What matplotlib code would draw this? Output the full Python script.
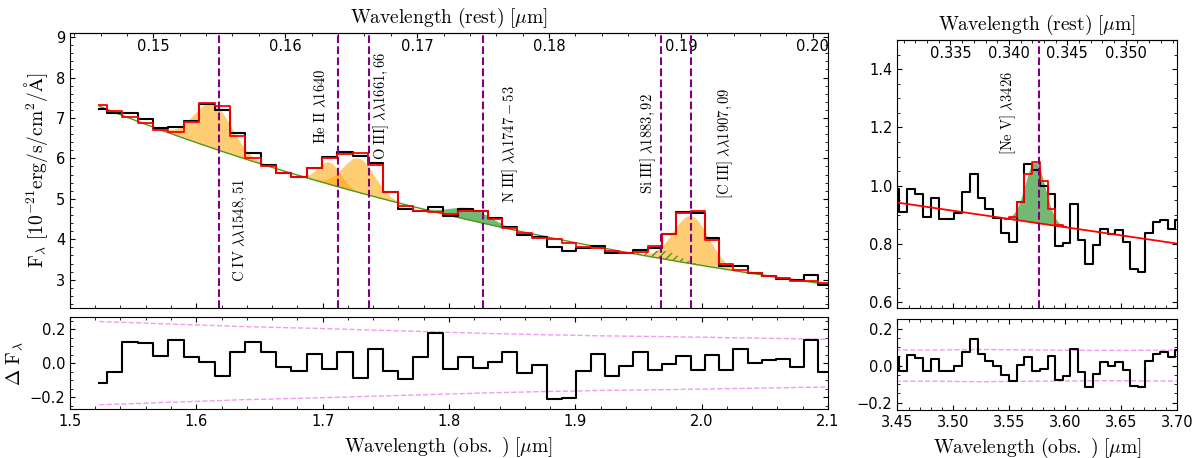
"""NIRSpec prism spectrum with UV line fits (left) and the [Ne V] region (right)."""

import matplotlib
matplotlib.use("Agg")
import matplotlib.pyplot as plt
import numpy as np
from matplotlib.ticker import FixedLocator, FormatStrFormatter, MultipleLocator

plt.rcParams["mathtext.fontset"] = "cm"

# Section: redshift used for the rest-frame axes (1 + z).
ONE_PLUS_Z = 10.44

# Section: UV part of the spectrum, binned (obs. wavelength in um, flux in 1e-21 cgs).
uv_wave = [
    1.5232, 1.5352, 1.5475, 1.5596, 1.5718, 1.5841, 1.5963, 1.6084, 1.6206, 1.6327,
    1.6449, 1.6570, 1.6692, 1.6813, 1.6934, 1.7056, 1.7177, 1.7297, 1.7417, 1.7539,
    1.7658, 1.7777, 1.7896, 1.8014, 1.8133, 1.8249, 1.8365, 1.8482, 1.8599, 1.8715,
    1.8833, 1.8951, 1.9066, 1.9178, 1.9292, 1.9404, 1.9516, 1.9628, 1.9740, 1.9855,
    1.9969, 2.0083, 2.0195, 2.0307, 2.0420, 2.0531, 2.0644, 2.0756, 2.0868, 2.0979,
    2.1087,
]
uv_flux = [
    7.22, 7.11, 7.13, 6.97, 6.76, 6.78, 6.92, 7.34, 7.19, 6.62,
    6.13, 5.84, 5.64, 5.53, 5.77, 6.03, 6.15, 6.06, 5.88, 5.18,
    4.76, 4.71, 4.80, 4.58, 4.75, 4.71, 4.53, 4.31, 4.11, 4.05,
    3.80, 3.72, 3.78, 3.84, 3.66, 3.65, 3.73, 3.79, 4.13, 4.68,
    4.65, 4.03, 3.34, 3.33, 3.17, 3.08, 3.02, 2.99, 3.11, 2.88,
    2.88,
]
uv_model = [
    7.33, 7.18, 7.03, 6.87, 6.70, 6.66, 6.91, 7.36, 7.29, 6.55,
    6.00, 5.80, 5.64, 5.54, 5.77, 6.00, 6.11, 6.14, 5.84, 5.18,
    4.83, 4.71, 4.67, 4.63, 4.71, 4.71, 4.49, 4.29, 4.15, 4.02,
    4.00, 3.91, 3.82, 3.79, 3.72, 3.67, 3.69, 3.83, 4.13, 4.66,
    4.69, 3.99, 3.38, 3.25, 3.16, 3.09, 3.03, 2.98, 2.97, 2.91,
    2.88,
]
uv_resid = [
    -0.116, -0.051, 0.127, 0.118, 0.045, 0.137, 0.035, 0.008, -0.078, 0.063,
    0.124, 0.067, -0.025, -0.045, 0.053, -0.037, 0.065, -0.090, 0.084, -0.045,
    -0.092, 0.037, 0.176, -0.037, 0.035, -0.029, 0.004, 0.063, -0.059, -0.010,
    -0.212, -0.208, -0.049, 0.053, -0.073, -0.016, 0.065, -0.039, -0.006, 0.043,
    -0.043, 0.049, -0.043, 0.086, 0.000, 0.016, 0.027, -0.025, 0.137, -0.051,
    -0.051,
]
uv_err = [
    0.245, 0.242, 0.239, 0.236, 0.232, 0.229, 0.226, 0.223, 0.220, 0.216,
    0.214, 0.212, 0.209, 0.207, 0.205, 0.202, 0.200, 0.197, 0.194, 0.192,
    0.189, 0.187, 0.184, 0.181, 0.179, 0.176, 0.174, 0.172, 0.170, 0.168,
    0.166, 0.165, 0.163, 0.161, 0.160, 0.159, 0.158, 0.157, 0.156, 0.154,
    0.153, 0.152, 0.150, 0.149, 0.148, 0.146, 0.145, 0.143, 0.142, 0.141,
    0.140,
]

# Section: UV continuum model, ln F = a + b*x + c*x^2 with x = ln(lambda / 1.8 um).
uv_cont_pars = [1.5243, -2.9008, -0.806]

# Section: fitted UV line components (obs. centre in um, amplitude, sigma in um).
orange_names = ["C IV", "He II", "O III]", "[C III]"]
orange_centre = [1.6128, 1.7053, 1.7285, 1.9914]
orange_amp = [1.10, 0.55, 0.85, 1.18]
orange_sigma = [0.0150, 0.0088, 0.0125, 0.0140]
niii_gauss = [1.8170, 0.30, 0.0160]
siiii_gauss = [1.9710, 0.20, 0.0120]

# Section: line markers (rest wavelength in um) and their labels.
uv_line_rest = [0.15495, 0.1640, 0.16635, 0.1750, 0.1885, 0.1908]
uv_line_labels = [
    r"$\mathrm{C\ IV}\ \lambda\lambda1548,51$",
    r"$\mathrm{He\ II}\ \lambda1640$",
    r"$\mathrm{O\ III]}\ \lambda\lambda1661,66$",
    r"$\mathrm{N\ III]}\ \lambda\lambda1747-53$",
    r"$\mathrm{Si\ III]}\ \lambda1883,92$",
    r"$\mathrm{[C\ III]}\ \lambda\lambda1907,09$",
]

# Section: rest-frame tick values for the top axes.
uv_rest_ticks = [0.15, 0.16, 0.17, 0.18, 0.19, 0.20]
ne_rest_ticks = [0.335, 0.340, 0.345, 0.350]

# Section: [Ne V] region of the spectrum.
ne_wave = [
    3.4484, 3.4551, 3.4618, 3.4692, 3.4767, 3.4837, 3.4907, 3.4973, 3.5045, 3.5116,
    3.5183, 3.5250, 3.5320, 3.5392, 3.5459, 3.5529, 3.5600, 3.5670, 3.5740, 3.5808,
    3.5875, 3.5942, 3.6009, 3.6076, 3.6146, 3.6213, 3.6280, 3.6347, 3.6413, 3.6482,
    3.6548, 3.6612, 3.6680, 3.6747, 3.6813, 3.6883, 3.6950, 3.7014,
]
ne_flux = [
    0.988, 0.910, 0.987, 0.970, 0.894, 0.956, 0.885, 0.886, 0.905, 0.978,
    1.040, 0.956, 0.921, 0.888, 0.838, 0.808, 0.943, 1.074, 1.055, 1.000,
    0.971, 0.792, 0.802, 0.937, 0.813, 0.730, 0.796, 0.852, 0.835, 0.848,
    0.808, 0.714, 0.704, 0.838, 0.875, 0.881, 0.850, 0.883,
]
ne_resid = [
    0.047, -0.027, 0.056, 0.042, -0.031, 0.036, -0.031, -0.027, -0.004, 0.075,
    0.142, 0.060, 0.027, -0.004, -0.049, -0.082, 0.005, 0.045, -0.027, -0.018,
    0.051, -0.076, -0.055, 0.087, -0.035, -0.116, -0.045, 0.018, 0.000, 0.018,
    -0.022, -0.109, -0.116, 0.024, 0.064, 0.073, 0.047, 0.082,
]
ne_err = [
    0.084, 0.084, 0.084, 0.084, 0.084, 0.084, 0.085, 0.085, 0.086, 0.086,
    0.087, 0.087, 0.087, 0.086, 0.086, 0.085, 0.085, 0.085, 0.084, 0.084,
    0.084, 0.083, 0.083, 0.083, 0.083, 0.082, 0.082, 0.082, 0.082, 0.082,
    0.082, 0.082, 0.083, 0.083, 0.083, 0.083, 0.083, 0.083,
]
# binned model over the line (bins 14..22), continuum end points, Gaussian
ne_model_first_bin = 14
ne_model = [0.887, 0.892, 0.945, 1.040, 1.082, 1.017, 0.920, 0.866, 0.857]
ne_cont_wave = [3.45, 3.70]
ne_cont_flux = [0.942, 0.801]
nev_gauss = [3.5730, 0.21, 0.0089]
nev_rest = 0.3426


def uv_continuum(wave):
    a, b, c = uv_cont_pars
    x = np.log(wave / 1.8)
    return np.exp(a + b * x + c * x**2)


def gauss(wave, centre, amp, sigma):
    return amp * np.exp(-0.5 * ((wave - centre) / sigma) ** 2)


def style_axes(ax, top_ticks):
    ax.tick_params(axis="both", which="both", direction="in", right=True,
                   top=top_ticks, labelsize=10.5)


def add_rest_axis(ax, ticks, minor, fmt):
    sec = ax.secondary_xaxis("top", functions=(lambda x: x / ONE_PLUS_Z,
                                                lambda x: x * ONE_PLUS_Z))
    sec.xaxis.set_major_locator(FixedLocator(ticks))
    sec.xaxis.set_minor_locator(MultipleLocator(minor))
    sec.xaxis.set_major_formatter(FormatStrFormatter(fmt))
    sec.tick_params(axis="x", which="both", direction="in", pad=-15, labelsize=10.5)
    sec.set_xlabel(r"$\mathrm{Wavelength\ (rest)\ [\mu m]}$", fontsize=14, labelpad=7.5)
    return sec


LINE_COLOR = "#800080"
CONT_COLOR = "#4c9a1c"

fig = plt.figure(figsize=(12, 4.58), dpi=100)
ax_uv = fig.add_axes([0.0583, 0.3275, 0.6317, 0.6004])
ax_uv_res = fig.add_axes([0.0583, 0.107, 0.6317, 0.2002])
ax_ne = fig.add_axes([0.7478, 0.3275, 0.2333, 0.5852])
ax_ne_res = fig.add_axes([0.7478, 0.1048, 0.2333, 0.198])

# Section: UV spectrum panel.
grid = np.linspace(uv_wave[0], 2.1, 1500)
cont = uv_continuum(grid)
for centre, amp, sigma in zip(orange_centre, orange_amp, orange_sigma):
    ax_uv.fill_between(grid, cont, cont + gauss(grid, centre, amp, sigma),
                       color="orange", alpha=0.55, linewidth=0)
ax_uv.fill_between(grid, cont, cont + gauss(grid, *niii_gauss),
                   color="green", alpha=0.55, linewidth=0)
ax_uv.fill_between(grid, cont, cont + gauss(grid, *siiii_gauss),
                   facecolor="none", edgecolor=CONT_COLOR, hatch="////", linewidth=0)
ax_uv.plot(grid, cont, color=CONT_COLOR, lw=1.0)
ax_uv.step(uv_wave, uv_flux, where="mid", color="black", lw=1.5)
ax_uv.step(uv_wave, uv_model, where="mid", color="red", lw=1.3)
for rest in uv_line_rest:
    ax_uv.axvline(rest * ONE_PLUS_Z, color=LINE_COLOR, ls="--", lw=1.5, zorder=5)

label_x = [1.6346, 1.6987, 1.7467, 1.8483, 1.9575, 2.0185]
label_y = [4.21, 7.28, 7.29, 6.36, 6.36, 6.37]
for text, x, y in zip(uv_line_labels, label_x, label_y):
    ax_uv.text(x, y, text, rotation=90, ha="center", va="center", fontsize=10.5)

ax_uv.set_xlim(1.5, 2.1)
ax_uv.set_ylim(2.3, 9.1)
ax_uv.xaxis.set_major_locator(MultipleLocator(0.1))
ax_uv.xaxis.set_minor_locator(MultipleLocator(0.02))
ax_uv.yaxis.set_major_locator(MultipleLocator(1))
ax_uv.yaxis.set_minor_locator(MultipleLocator(0.2))
style_axes(ax_uv, top_ticks=False)
ax_uv.tick_params(labelbottom=False)
ax_uv.set_ylabel(r"$\mathrm{F_\lambda\ [10^{-21}erg/s/cm^2/\AA]}$", fontsize=14)
add_rest_axis(ax_uv, uv_rest_ticks, 0.002, "%.2f")

# Section: UV residual panel.
uv_err_arr = np.array(uv_err)
ax_uv_res.plot(uv_wave, uv_err_arr, color="violet", ls="--", lw=1.0, alpha=0.8)
ax_uv_res.plot(uv_wave, -uv_err_arr, color="violet", ls="--", lw=1.0, alpha=0.8)
ax_uv_res.step(uv_wave, uv_resid, where="mid", color="black", lw=1.5)
ax_uv_res.set_xlim(1.5, 2.1)
ax_uv_res.set_ylim(-0.27, 0.27)
ax_uv_res.xaxis.set_major_locator(MultipleLocator(0.1))
ax_uv_res.xaxis.set_minor_locator(MultipleLocator(0.02))
ax_uv_res.yaxis.set_major_locator(MultipleLocator(0.2))
ax_uv_res.yaxis.set_minor_locator(MultipleLocator(0.05))
style_axes(ax_uv_res, top_ticks=True)
ax_uv_res.set_xlabel(r"$\mathrm{Wavelength\ (obs.\ )\ [\mu m]}$", fontsize=14)
ax_uv_res.set_ylabel(r"$\Delta\ \mathrm{F}_\lambda$", fontsize=14)

# Section: [Ne V] spectrum panel.
ne_grid = np.linspace(3.45, 3.70, 800)
ne_cont = np.interp(ne_grid, ne_cont_wave, ne_cont_flux)
ax_ne.fill_between(ne_grid, ne_cont, ne_cont + gauss(ne_grid, *nev_gauss),
                   color="green", alpha=0.55, linewidth=0)
ax_ne.step(ne_wave, ne_flux, where="mid", color="black", lw=1.5)
ax_ne.plot(ne_cont_wave, ne_cont_flux, color="red", lw=1.3)
model_wave = ne_wave[ne_model_first_bin:ne_model_first_bin + len(ne_model)]
ax_ne.step(model_wave, ne_model, where="mid", color="red", lw=1.3)
ax_ne.axvline(nev_rest * ONE_PLUS_Z, color=LINE_COLOR, ls="--", lw=1.5, zorder=5)
ax_ne.text(3.5491, 1.248, r"$\mathrm{[Ne\ V]}\ \lambda3426$", rotation=90,
           ha="center", va="center", fontsize=10.5)
ax_ne.set_xlim(3.45, 3.70)
ax_ne.set_ylim(0.58, 1.5)
ax_ne.xaxis.set_major_locator(MultipleLocator(0.05))
ax_ne.xaxis.set_minor_locator(MultipleLocator(0.01))
ax_ne.yaxis.set_major_locator(MultipleLocator(0.2))
ax_ne.yaxis.set_minor_locator(MultipleLocator(0.05))
style_axes(ax_ne, top_ticks=False)
ax_ne.tick_params(labelbottom=False)
add_rest_axis(ax_ne, ne_rest_ticks, 0.001, "%.3f")

# Section: [Ne V] residual panel.
ne_err_arr = np.array(ne_err)
ax_ne_res.plot(ne_wave, ne_err_arr, color="violet", ls="--", lw=1.0, alpha=0.8)
ax_ne_res.plot(ne_wave, -ne_err_arr, color="violet", ls="--", lw=1.0, alpha=0.8)
ax_ne_res.step(ne_wave, ne_resid, where="mid", color="black", lw=1.5)
ax_ne_res.set_xlim(3.45, 3.70)
ax_ne_res.set_ylim(-0.24, 0.25)
ax_ne_res.xaxis.set_major_locator(MultipleLocator(0.05))
ax_ne_res.xaxis.set_minor_locator(MultipleLocator(0.01))
ax_ne_res.yaxis.set_major_locator(MultipleLocator(0.2))
ax_ne_res.yaxis.set_minor_locator(MultipleLocator(0.05))
ax_ne_res.xaxis.set_major_formatter(FormatStrFormatter("%.2f"))
style_axes(ax_ne_res, top_ticks=True)
ax_ne_res.set_xlabel(r"$\mathrm{Wavelength\ (obs.\ )\ [\mu m]}$", fontsize=14)

fig.savefig("out.png", dpi=100)
plt.close(fig)
